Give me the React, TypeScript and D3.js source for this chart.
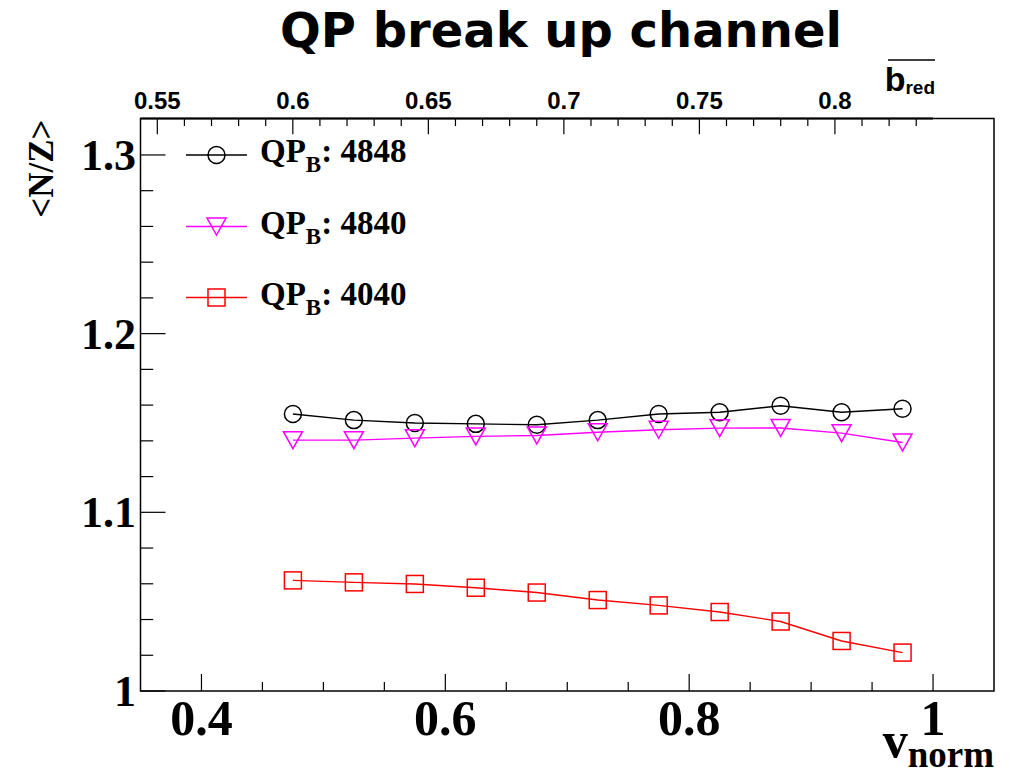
import React from 'react';
import * as d3 from 'd3';

// ---- data ----
const vnorm = [0.475, 0.525, 0.575, 0.625, 0.675, 0.725, 0.775, 0.825, 0.875, 0.925, 0.975];
const nz4848 = [1.155, 1.1516, 1.15, 1.1495, 1.149, 1.1516, 1.155, 1.156, 1.1596, 1.156, 1.158];
const nz4840 = [1.1404, 1.1404, 1.1415, 1.1425, 1.143, 1.1448, 1.1462, 1.1471, 1.1472, 1.1443, 1.1391];
const nz4040 = [1.0619, 1.0608, 1.0599, 1.0578, 1.0551, 1.0509, 1.0479, 1.0442, 1.0389, 1.028, 1.0215];
const seriesLabels = ['4848', '4840', '4040'];
const seriesColors = ['#000000', '#ff00ff', '#ff0000'];
const seriesMarkers = ['circle', 'triangle', 'square'];
const xMajorTicks = [0.4, 0.6, 0.8, 1];
const yMajorTicks = [1, 1.1, 1.2, 1.3];
const topMajorTicks = [0.55, 0.6, 0.65, 0.7, 0.75, 0.8];

const W = 1014;
const H = 772;
const L = 140.5, R = 994, T = 118.5, B = 691;

const serif = '"Liberation Serif", "Times New Roman", serif';
const sans = '"Liberation Sans", Arial, sans-serif';

function Marker({ kind, cx, cy, color }: { kind: string; cx: number; cy: number; color: string }) {
  const sw = 1.5;
  if (kind === 'circle') return <circle cx={cx} cy={cy} r={8.5} fill="none" stroke={color} strokeWidth={sw} />;
  if (kind === 'square') return <rect x={cx - 8.5} y={cy - 8.5} width={17} height={17} fill="none" stroke={color} strokeWidth={sw} />;
  const p = `${cx - 9.5},${cy - 8.5} ${cx + 9.5},${cy - 8.5} ${cx},${cy + 8.5}`;
  return <polygon points={p} fill="none" stroke={color} strokeWidth={sw} />;
}

export default function App() {
  const x = d3.scaleLinear().domain([0.35, 1.05]).range([L, R]);
  const y = d3.scaleLinear().domain([1, 1.3204]).range([B, T]);
  const xt = d3.scaleLinear().domain([0.5438, 0.8362]).range([L, x(1.0)]);

  const series = [nz4848, nz4840, nz4040];
  const line = d3.line<[number, number]>().x(d => x(d[0])).y(d => y(d[1]));

  const xMinor = d3.range(0.4, 1.0001, 0.05);
  const yMinor = d3.range(1.0, 1.3101, 0.02);
  const topMinor = d3.range(0.55, 0.8362, 0.01);
  const isMajor = (v: number, arr: number[]) => arr.some(a => Math.abs(a - v) < 1e-6);

  const fmtTop = (v: number) => String(+v.toFixed(2));
  const fmtY = (v: number) => (v === 1 ? '1' : v.toFixed(1));
  const fmtX = (v: number) => (v === 1 ? '1' : v.toFixed(1));

  const legendY = [155, 226.5, 297.5];

  return (
    <svg width={W} height={H} style={{ position: 'absolute', left: 0, top: 0, background: '#fff' }}>
      <rect x={0} y={0} width={W} height={H} fill="#fff" />
      {/* title */}
      <text x={561} y={47} textAnchor="middle" fontFamily='"DejaVu Sans", sans-serif' fontWeight="bold" fontSize={48}>QP break up channel</text>

      {/* frame */}
      <rect x={L} y={T} width={R - L} height={B - T} fill="none" stroke="#000" strokeWidth={1.5} />
      <line x1={L} x2={x(1.0)} y1={T} y2={T} stroke="#000" strokeWidth={2} />

      {/* bottom axis ticks */}
      {xMinor.map((v, i) => {
        const maj = isMajor(v, xMajorTicks);
        return <line key={'xb' + i} x1={x(v)} x2={x(v)} y1={B} y2={B - (maj ? 17 : 9)} stroke="#000" strokeWidth={1.2} />;
      })}
      {xMajorTicks.map((v, i) => (
        <text key={'xl' + i} x={x(v)} y={735} textAnchor="middle" fontFamily={serif} fontWeight="bold" fontSize={50}>{fmtX(v)}</text>
      ))}
      <text x={R} y={767} textAnchor="end" fontFamily={serif} fontWeight="bold">
        <tspan fontSize={50} dy={-10}>v</tspan>
        <tspan fontSize={37} dy={10}>norm</tspan>
      </text>

      {/* left axis ticks */}
      {yMinor.map((v, i) => {
        const maj = isMajor(v, yMajorTicks);
        return <line key={'yl' + i} x1={L} x2={L + (maj ? 25 : 12.7)} y1={y(v)} y2={y(v)} stroke="#000" strokeWidth={1.2} />;
      })}
      {yMajorTicks.map((v, i) => (
        <text key={'ylab' + i} x={136} y={y(v) + 15} textAnchor="end" fontFamily={serif} fontWeight="bold" fontSize={44}>{fmtY(v)}</text>
      ))}
      <text transform={`translate(53, ${T + 1}) rotate(-90)`} textAnchor="end" fontFamily={serif} fontWeight="bold" fontSize={35}>{'<N/Z>'}</text>

      {/* top axis */}
      {topMinor.map((v, i) => {
        const maj = isMajor(v, topMajorTicks);
        return <line key={'xt' + i} x1={xt(v)} x2={xt(v)} y1={T} y2={T + (maj ? 15.7 : 7.5)} stroke="#000" strokeWidth={1.2} />;
      })}
      {topMajorTicks.map((v, i) => (
        <text key={'xtl' + i} x={xt(v)} y={109} textAnchor="middle" fontFamily={sans} fontWeight="bold" fontSize={24}>{fmtTop(v)}</text>
      ))}
      <g>
        <line x1={888} x2={935} y1={60} y2={60} stroke="#000" strokeWidth={1.3} />
        <text x={935} y={91} textAnchor="end" fontFamily={sans} fontWeight="bold">
          <tspan fontSize={34}>b</tspan>
          <tspan fontSize={19} dy={3}>red</tspan>
        </text>
      </g>

      {/* data */}
      {series.map((s, si) => {
        const pts: [number, number][] = vnorm.map((v, i) => [v, s[i]]);
        return (
          <g key={'s' + si}>
            <path d={line(pts) || ''} fill="none" stroke={seriesColors[si]} strokeWidth={1.4} />
            {pts.map((p, i) => (
              <Marker key={i} kind={seriesMarkers[si]} cx={x(p[0])} cy={y(p[1])} color={seriesColors[si]} />
            ))}
          </g>
        );
      })}

      {/* legend */}
      {seriesLabels.map((lab, i) => (
        <g key={'lg' + i}>
          <line x1={186} x2={247} y1={legendY[i]} y2={legendY[i]} stroke={seriesColors[i]} strokeWidth={1.4} />
          <Marker kind={seriesMarkers[i]} cx={216.5} cy={legendY[i]} color={seriesColors[i]} />
          <text x={260} y={legendY[i] + 7} fontFamily={serif} fontWeight="bold" fontSize={33}>
            <tspan>QP</tspan>
            <tspan fontSize={23} dy={10}>B</tspan>
            <tspan dy={-10}>{': ' + lab}</tspan>
          </text>
        </g>
      ))}
    </svg>
  );
}
